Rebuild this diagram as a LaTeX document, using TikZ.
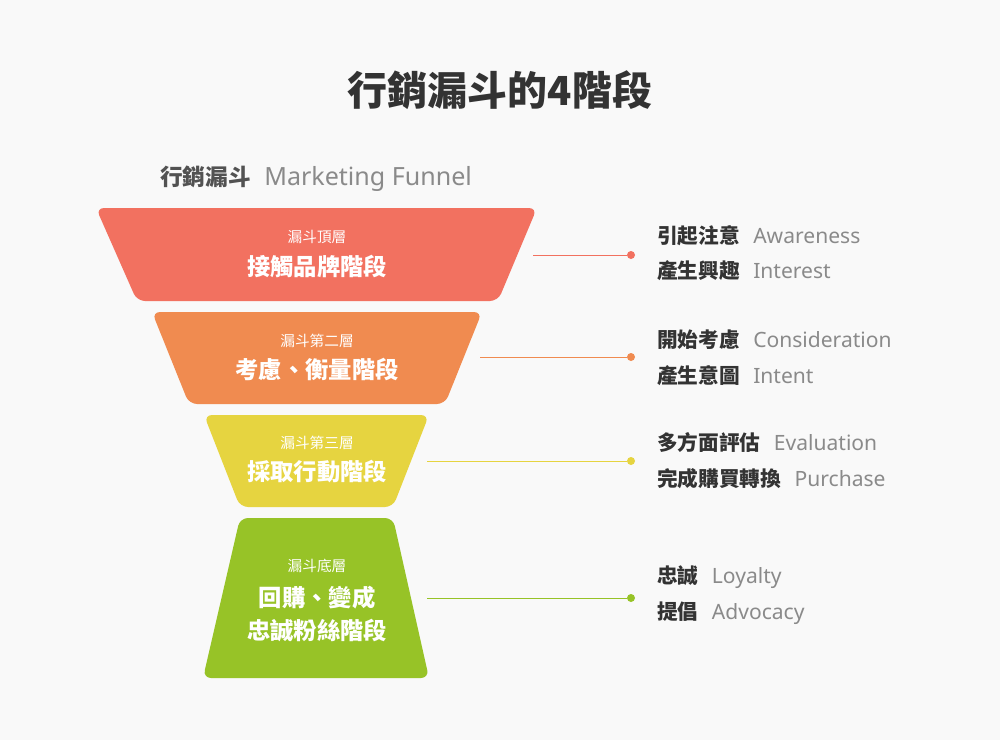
\documentclass[tikz,border=0pt]{standalone}
\usepackage{fontspec}
\setmainfont{Noto Sans CJK TC}
\newfontfamily\latinfont{Noto Sans}
\usepackage{tikz}

\definecolor{bgcol}{HTML}{F9F9F9}
\definecolor{topred}{HTML}{F27160}
\definecolor{midorange}{HTML}{F08B50}
\definecolor{lowyellow}{HTML}{E6D440}
\definecolor{basegreen}{HTML}{97C327}
\definecolor{textdark}{HTML}{333333}
\definecolor{textgray}{HTML}{8A8A8A}

\newcommand{\stagelbl}[2]{{\bfseries #1}\hspace{10pt}{\latinfont\fontsize{15.8}{18}\selectfont\color{textgray}#2}}

\begin{document}
\begin{tikzpicture}[x=0.75pt, y=-0.75pt,
		layer/.style={rounded corners=6pt},
		small/.style={text=white, font=\fontsize{11}{13}\selectfont},
		big/.style={text=white, font=\bfseries\fontsize{17.5}{24.75}\selectfont, align=center},
		stage/.style={anchor=west, inner sep=0pt, text=textdark, font=\fontsize{15.5}{18}\selectfont},
		dot/.style={circle, inner sep=0pt, minimum size=6pt}]
	\fill[bgcol] (0, 0) rectangle (1000, 740);
	\useasboundingbox (0, 0) rectangle (1000, 740);
	% title
	\node[text=textdark, font=\bfseries\fontsize{30}{34}\selectfont] (title) at (500, 90) {行銷漏斗的4階段};
	\node[anchor=west, inner sep=0pt, font=\fontsize{17}{20}\selectfont] (sub) at (160, 179)
		{{\bfseries\color{textdark!85}行銷漏斗}\hspace{10pt}{\latinfont\fontsize{18.8}{20}\selectfont\color{textgray}Marketing Funnel}};
	% funnel layers
	\fill[topred, layer] (96, 208) -- (537, 208) -- (498, 301) -- (137, 301) -- cycle;
	\fill[midorange, layer] (152, 312) -- (482, 312) -- (445, 404) -- (189, 404) -- cycle;
	\fill[lowyellow, layer] (204, 415) -- (429, 415) -- (393, 507) -- (240, 507) -- cycle;
	\fill[basegreen, layer] (240, 518) -- (393, 518) -- (429, 678) -- (203, 678) -- cycle;
	% layer texts
	\node[small] (s1) at (317, 237) {漏斗頂層};
	\node[big] (b1) at (317, 266) {接觸品牌階段};
	\node[small] (s2) at (317, 341) {漏斗第二層};
	\node[big] (b2) at (317, 369) {考慮、衡量階段};
	\node[small] (s3) at (317, 443) {漏斗第三層};
	\node[big] (b3) at (317, 472) {採取行動階段};
	\node[small] (s4) at (317, 566) {漏斗底層};
	\node[big] (b4) at (317, 614) {回購、變成\\忠誠粉絲階段};
	% connectors
	\coordinate (e1) at (533, 255);
	\coordinate (e2) at (480, 357);
	\coordinate (e3) at (427, 461);
	\coordinate (e4) at (427, 598);
	\node[dot, fill=topred] (d1) at (631, 255) {};
	\node[dot, fill=midorange] (d2) at (631, 357) {};
	\node[dot, fill=lowyellow] (d3) at (631, 461) {};
	\node[dot, fill=basegreen] (d4) at (631, 598) {};
	\draw[topred] (e1) -- (d1);
	\draw[midorange] (e2) -- (d2);
	\draw[lowyellow] (e3) -- (d3);
	\draw[basegreen] (e4) -- (d4);
	% stage descriptions
	\node[stage] (a1) at (657, 236) {\stagelbl{引起注意}{Awareness}};
	\node[stage] (a2) at (657, 271) {\stagelbl{產生興趣}{Interest}};
	\node[stage] (c1) at (657, 340) {\stagelbl{開始考慮}{Consideration}};
	\node[stage] (c2) at (657, 376) {\stagelbl{產生意圖}{Intent}};
	\node[stage] (p1) at (657, 443) {\stagelbl{多方面評估}{Evaluation}};
	\node[stage] (p2) at (657, 479) {\stagelbl{完成購買轉換}{Purchase}};
	\node[stage] (l1) at (657, 577) {\stagelbl{忠誠}{Loyalty}};
	\node[stage] (l2) at (657, 613) {\stagelbl{提倡}{Advocacy}};
\end{tikzpicture}
\end{document}
